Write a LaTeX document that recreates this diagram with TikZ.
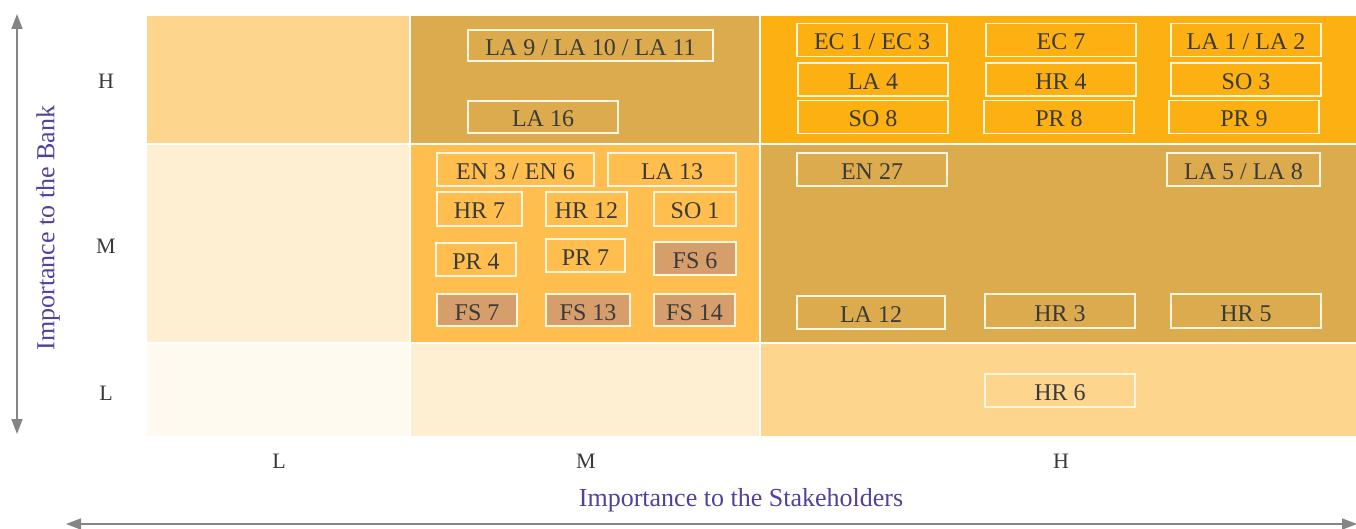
\documentclass[tikz,border=0pt]{standalone}
\usepackage{fontspec}
\setmainfont{Liberation Serif}
\usetikzlibrary{arrows.meta}
\definecolor{cLight}{HTML}{FDD58D}
\definecolor{cTan}{HTML}{DCAB4E}
\definecolor{cOrange}{HTML}{FDB012}
\definecolor{cPale}{HTML}{FEEFD3}
\definecolor{cMid}{HTML}{FFBE4E}
\definecolor{cPalest}{HTML}{FEFAEF}
\definecolor{cFS}{HTML}{D69E6B}
\definecolor{cTxt}{HTML}{3A3A3A}
\definecolor{cBorder}{HTML}{FFF6E0}
\definecolor{cAxis}{HTML}{4E449E}
\definecolor{cArrow}{HTML}{858585}
\begin{document}
\begin{tikzpicture}[x=1pt,y=-1pt,
  cell/.style={draw=none,inner sep=0pt,minimum width=#1},
  tagbox/.style={draw=cBorder,line width=1.4pt,inner sep=0pt,text=cTxt,
    font=\fontsize{24}{24}\selectfont,text height=23pt,text depth=3pt,
    minimum width=#1,minimum height=33pt},
  fsbox/.style={tagbox=#1,fill=cFS},
  lvl/.style={text=cTxt,font=\fontsize{22}{22}\selectfont,inner sep=0pt},
  axlabel/.style={text=cAxis,font=\fontsize{26}{26}\selectfont,inner sep=0pt},
  axarrow/.style={draw=cArrow,line width=1.5pt,{Triangle[length=15pt,width=11pt]}-{Triangle[length=15pt,width=11pt]}}
]
\useasboundingbox (0,0) rectangle (1356,529);
\fill[white] (0,0) rectangle (1356,529);
% cells
\node[cell=262pt,minimum height=127pt,fill=cLight] (c11) at (278,79.5) {};
\node[cell=348pt,minimum height=127pt,fill=cTan] (c12) at (585,79.5) {};
\node[cell=595pt,minimum height=127pt,fill=cOrange] (c13) at (1058.5,79.5) {};
\node[cell=262pt,minimum height=197pt,fill=cPale] (c21) at (278,243.5) {};
\node[cell=348pt,minimum height=197pt,fill=cMid] (c22) at (585,243.5) {};
\node[cell=595pt,minimum height=197pt,fill=cTan] (c23) at (1058.5,243.5) {};
\node[cell=262pt,minimum height=92pt,fill=cPalest] (c31) at (278,390) {};
\node[cell=348pt,minimum height=92pt,fill=cPale] (c32) at (585,390) {};
\node[cell=595pt,minimum height=92pt,fill=cLight] (c33) at (1058.5,390) {};
% top-middle
\node[tagbox=245pt,minimum height=31pt] (la9) at (590.5,45.5) {LA 9 / LA 10 / LA 11};
\node[tagbox=150pt,minimum height=32pt] (la16) at (543,117) {LA 16};
% top-right
\node[tagbox=150pt] (ec1) at (872,40) {EC 1 / EC 3};
\node[tagbox=150pt] (ec7) at (1061,40) {EC 7};
\node[tagbox=150pt] (la1) at (1246,40) {LA 1 / LA 2};
\node[tagbox=150pt] (la4) at (873,79.5) {LA 4};
\node[tagbox=150pt] (hr4) at (1061,79.5) {HR 4};
\node[tagbox=150pt] (so3) at (1246,79.5) {SO 3};
\node[tagbox=150pt] (so8) at (873,117) {SO 8};
\node[tagbox=150pt] (pr8) at (1059,117) {PR 8};
\node[tagbox=150pt] (pr9) at (1244,117) {PR 9};
% mid-middle
\node[tagbox=157pt] (en3) at (515.5,169.5) {EN 3 / EN 6};
\node[tagbox=128pt] (la13) at (672,169.5) {LA 13};
\node[tagbox=85pt,minimum height=34pt] (hr7) at (479.5,209) {HR 7};
\node[tagbox=81pt,minimum height=34pt] (hr12) at (586.5,209) {HR 12};
\node[tagbox=82pt,minimum height=34pt] (so1) at (695,209) {SO 1};
\node[tagbox=80pt] (pr4) at (476,259.5) {PR 4};
\node[tagbox=79pt] (pr7) at (585.5,255.5) {PR 7};
\node[fsbox=82pt] (fs6) at (695,258.5) {FS 6};
\node[fsbox=80pt,minimum height=32pt] (fs7) at (477,310) {FS 7};
\node[fsbox=84pt,minimum height=32pt] (fs13) at (588,310) {FS 13};
\node[fsbox=81pt,minimum height=32pt] (fs14) at (694.5,310) {FS 14};
% mid-right
\node[tagbox=150pt] (en27) at (872,169.5) {EN 27};
\node[tagbox=153pt] (la5) at (1243.5,169.5) {LA 5 / LA 8};
\node[tagbox=148pt] (la12) at (871,312.5) {LA 12};
\node[tagbox=150pt,minimum height=34pt] (hr3) at (1060,311) {HR 3};
\node[tagbox=150pt,minimum height=34pt] (hr5) at (1246,311) {HR 5};
% bottom-right
\node[tagbox=150pt] (hr6) at (1060,390.5) {HR 6};
% level labels
\node[lvl] (rh) at (106,81) {H};
\node[lvl] (rm) at (106,246) {M};
\node[lvl] (rl) at (106,393) {L};
\node[lvl] (cl) at (279,461) {L};
\node[lvl] (cm) at (586,461) {M};
\node[lvl] (ch) at (1061,461) {H};
% axes
\node[axlabel,rotate=90] (bank) at (48,228) {Importance to the Bank};
\node[axlabel] (stake) at (741,500) {Importance to the Stakeholders};
\coordinate (vt) at (17,14);
\coordinate (vb) at (17,434);
\coordinate (hl) at (66,524);
\coordinate (hr) at (1357,524);
\draw[axarrow] (vt) -- (vb);
\draw[axarrow] (hl) -- (hr);
\end{tikzpicture}
\end{document}
